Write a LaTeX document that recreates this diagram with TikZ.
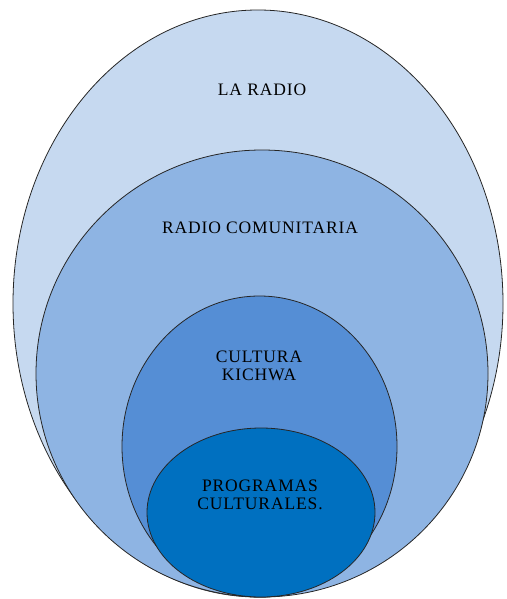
\documentclass[tikz,border=0pt]{standalone}
\usepackage{fontspec}
\setmainfont{Liberation Serif}[LetterSpace=5]
\usetikzlibrary{shapes.geometric}
\definecolor{c1}{HTML}{C6D9F0}
\definecolor{c2}{HTML}{8EB4E3}
\definecolor{c3}{HTML}{558ED5}
\definecolor{c4}{HTML}{0070C0}
\tikzset{
  ring/.style={ellipse, draw=black!85, line width=0.8pt, inner sep=0pt, outer sep=0pt},
  lbl/.style={font=\fontsize{17.5}{18}\selectfont, text=black, align=center, inner sep=0pt}
}
\begin{document}
\begin{tikzpicture}[x=1pt,y=-1pt]
\useasboundingbox (0,0) rectangle (506,599);
\node[ring, fill=c1, minimum width=490pt, minimum height=587pt] (e1) at (258,303.5) {};
\node[ring, fill=c2, minimum width=452pt, minimum height=447pt] (e2) at (262,373.5) {};
\node[ring, fill=c3, minimum width=275pt, minimum height=301pt] (e3) at (259.5,446.5) {};
\node[ring, fill=c4, minimum width=228pt, minimum height=169pt] (e4) at (261,512.5) {};
\node[lbl] (t1) at (262,90) {LA RADIO};
\node[lbl] (t2) at (260,228) {RADIO COMUNITARIA};
\node[lbl] (t3) at (259,366) {CULTURA\\KICHWA};
\node[lbl] (t4) at (260,495) {PROGRAMAS\\CULTURALES.};
\end{tikzpicture}
\end{document}
